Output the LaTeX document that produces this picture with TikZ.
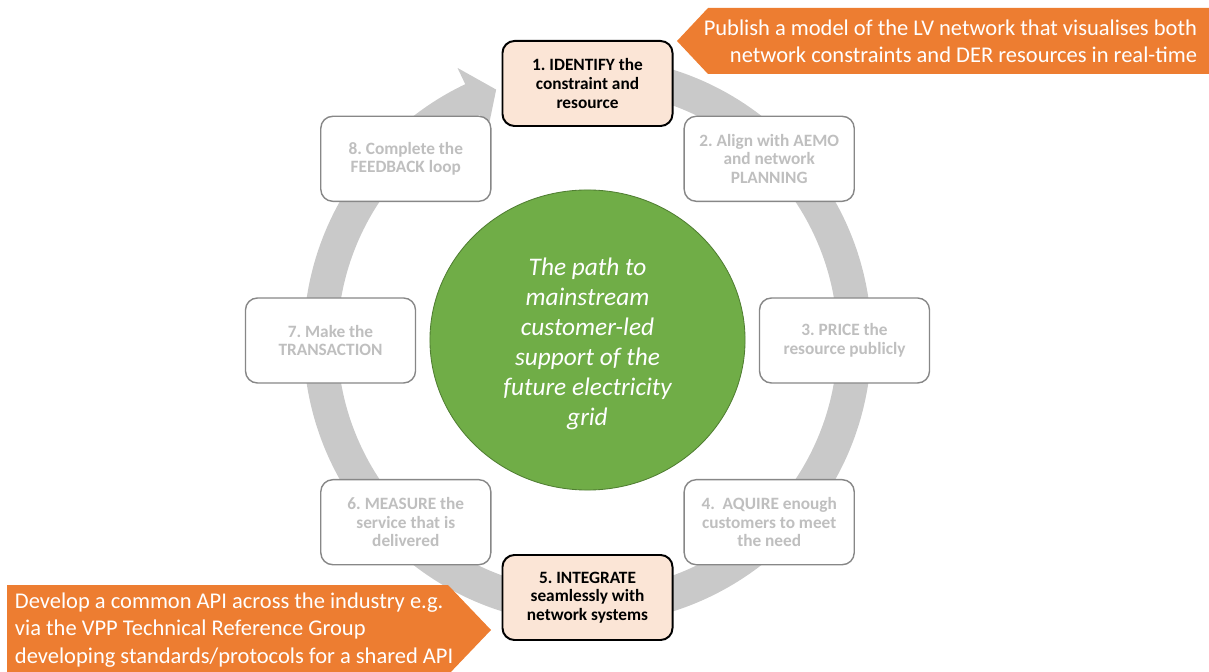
\documentclass[tikz,border=0pt]{standalone}
\usepackage{fontspec}
\setmainfont{Carlito}
\frenchspacing
\usetikzlibrary{shapes.geometric}
\definecolor{ringgray}{RGB}{201,201,201}
\definecolor{boxgray}{RGB}{135,135,135}
\definecolor{txtgray}{RGB}{191,191,191}
\definecolor{peach}{RGB}{251,229,214}
\definecolor{noteorange}{RGB}{237,125,49}
\definecolor{hubgreen}{RGB}{112,173,71}
\definecolor{hubedge}{RGB}{80,126,50}

\begin{document}
\begin{tikzpicture}[x=0.025cm, y=0.025cm,
        stagebox/.style={draw=boxgray, line width=1pt, fill=white, rounded corners=0.3cm,
            minimum width=4.25cm, minimum height=2.125cm, align=center, text=txtgray,
            font=\fontsize{12.3}{13.3}\selectfont\bfseries},
        activebox/.style={stagebox, draw=black, line width=1.4pt, fill=peach, text=black},
        notetext/.style={text=white, font=\fontsize{16}{19.3}\selectfont}]
        \useasboundingbox (0, 0) rectangle (1209, 671);

        % the cycle arrow behind the boxes
        \fill [ringgray, shift={(587.5, 330.5)}] (80:284) arc [start angle=80, end angle=-244.5, radius=284]
            -- (-244.5:302) -- (-250:267) -- (-244.5:232) -- (-244.5:250)
            arc [start angle=-244.5, end angle=80, radius=250] -- cycle;

        \node (hub) at (587.5, 331) [ellipse, fill=hubgreen, draw=hubedge, line width=0.6pt,
            minimum width=7.875cm, minimum height=7.5cm, inner sep=0pt] {};
        \node (hubtext) at (hub.center) [yshift=-0.1cm, align=center, text=white,
            font=\fontsize{18}{21.3}\selectfont\itshape]
            {The path to\\mainstream\\customer-led\\support of the\\future electricity\\grid};

        \node (ident) at (587.5, 587.5) [activebox] {1. IDENTIFY the\\constraint and\\resource};
        \node (align) at (769.2, 512.2) [stagebox] {2. Align with AEMO\\and network\\PLANNING};
        \node (price) at (844.5, 330.5) [stagebox] {3. PRICE the\\resource publicly};
        \node (acquire) at (769.2, 148.8) [stagebox] {4.\ \ AQUIRE enough\\customers to meet\\the need};
        \node (integ) at (587.5, 73.5) [activebox] {5. INTEGRATE\\seamlessly with\\network systems};
        \node (measure) at (405.8, 148.8) [stagebox] {6. MEASURE the\\service that is\\delivered};
        \node (trans) at (330.5, 330.5) [stagebox] {7. Make the\\TRANSACTION};
        \node (fback) at (405.8, 512.2) [stagebox] {8. Complete the\\FEEDBACK loop};

        % callouts
        \fill [noteorange] (677, 630) -- (708, 663) -- (1209, 663) -- (1209, 597) -- (708, 597) -- cycle;
        \node (pubnote) at (1202, 630) [notetext, anchor=east, align=right]
            {Publish a model of the LV network that visualises both\\network constraints and DER resources in real-time};

        \fill [noteorange] (7, 86) -- (448, 86) -- (491, 41) -- (448, -4) -- (7, -4) -- cycle;
        \node (apinote) at (10, 41) [notetext, anchor=west, align=left]
            {Develop a common API across the industry e.g.\\via the VPP Technical Reference Group\\developing standards/protocols for a shared API};
    \end{tikzpicture}
\end{document}
